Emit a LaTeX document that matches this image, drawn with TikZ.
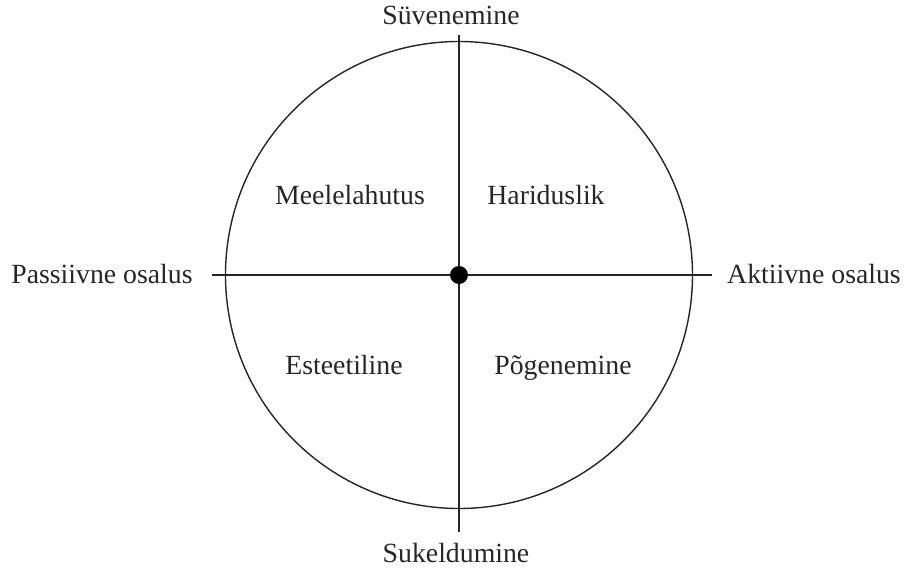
\documentclass[tikz,border=0pt]{standalone}
\usepackage{fontspec}
\setmainfont{Liberation Serif}
\usetikzlibrary{positioning}

\begin{document}
\begin{tikzpicture}[
        axis/.style={draw=black!85, line width=0.8pt},
        lbl/.style={font=\fontsize{15.8}{19}\selectfont, text=black!85, inner sep=0pt,
                    text height=11pt, text depth=3.5pt}
      ]
        \useasboundingbox (-9.18,5.5) rectangle (8.9,-5.84);
        % ring and axes
        \node[circle, axis, minimum size=9.34cm, inner sep=0pt] (ring) at (0,0) {};
        \coordinate (top) at (0,4.8);
        \coordinate (bottom) at (0,-5.14);
        \coordinate (left) at (-4.94,0);
        \coordinate (right) at (5.06,0);
        \draw[axis] (top) -- (bottom);
        \draw[axis] (left) -- (right);
        \node[circle, fill=black, minimum size=0.36cm, inner sep=0pt] (mid) at (0,0) {};
        % axis labels
        \node[lbl] (deep) at (-0.16,5.14) {Süvenemine};
        \node[lbl] (dive) at (-0.06,-5.62) {Sukeldumine};
        \node[lbl] (passive) at (-7.14,-0.04) {Passiivne osalus};
        \node[lbl] (active) at (7.1,-0.04) {Aktiivne osalus};
        % quadrants
        \node[lbl] (fun) at (-2.18,1.54) {Meelelahutus};
        \node[lbl] (edu) at (1.74,1.54) {Hariduslik};
        \node[lbl] (art) at (-2.3,-1.86) {Esteetiline};
        \node[lbl] (escape) at (2.08,-1.86) {Põgenemine};
      \end{tikzpicture}
\end{document}
